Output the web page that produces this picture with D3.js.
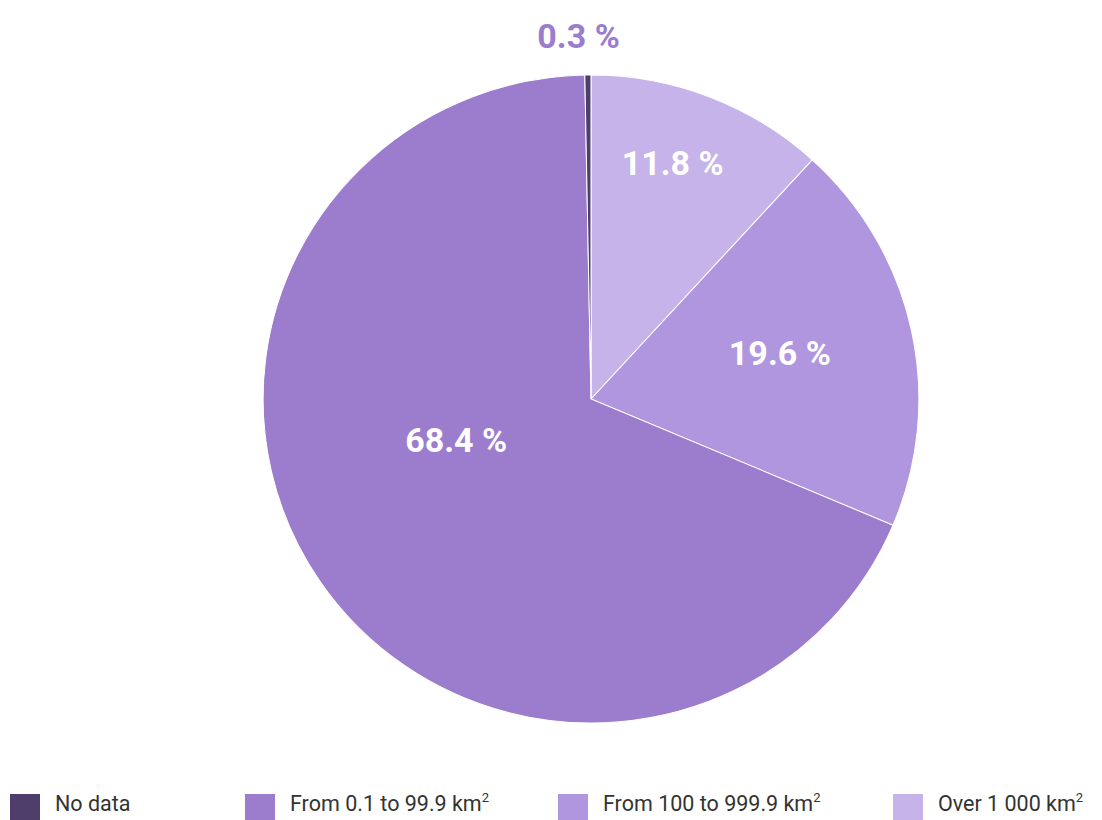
<!DOCTYPE html>
<html>
<head>
<meta charset="utf-8">
<script src="https://cdn.jsdelivr.net/npm/d3@7"></script>
<style>
  body { margin: 0; background: #fff; }
  svg { display: block; }
</style>
</head>
<body>
<script>
// categories in legend order, and their shares (%)
const categories = ["No data", "From 0.1 to 99.9 km", "From 100 to 999.9 km", "Over 1 000 km"];
const shares = [0.3, 68.4, 19.6, 11.8];
const labels = ["0.3 %", "68.4 %", "19.6 %", "11.8 %"];
const colours = ["#4f3d6c", "#9c7ccd", "#b096df", "#c6b3ea"];
// drawing order around the pie, clockwise from 12 o'clock
const pieOrder = [3, 2, 1, 0];

const width = 1102, height = 820;
const cx = 591, cy = 399, radius = 324;

// where each label sits: fraction of angle inside slice, radius (fraction of pie radius)
const labelPlace = {
  0: { t: 0.5, r: 1.12, dx: -9, colour: "#9c7ccd" },
  1: { t: 0.57, r: 0.435, dx: 0, colour: "#fff" },
  2: { t: 0.48, r: 0.6, dx: 0, colour: "#fff" },
  3: { t: 0.45, r: 0.77, dx: 0, colour: "#fff" }
};

const svg = d3.select("body").append("svg")
  .attr("width", width)
  .attr("height", height);

const pie = d3.pie()
  .sort(null)
  .value(i => shares[i]);

const arcs = pie(pieOrder);

const arc = d3.arc()
  .innerRadius(0)
  .outerRadius(radius);

const g = svg.append("g")
  .attr("transform", `translate(${cx},${cy})`);

g.append("g")
  .attr("transform", "scale(1.012,1)")
  .selectAll("path")
  .data(arcs)
  .enter().append("path")
  .attr("d", arc)
  .attr("fill", d => colours[d.data])
  .attr("stroke", "#fff")
  .attr("stroke-width", 1);

g.selectAll("text.lbl")
  .data(arcs)
  .enter().append("text")
  .attr("class", "lbl")
  .attr("transform", d => {
    const p = labelPlace[d.data];
    const a = d.startAngle + (d.endAngle - d.startAngle) * p.t;
    const r = radius * p.r;
    return `translate(${r * Math.sin(a) + p.dx},${-r * Math.cos(a)})`;
  })
  .attr("text-anchor", "middle")
  .attr("dy", "0.36em")
  .style("font-family", "Roboto, 'DejaVu Sans', sans-serif")
  .style("font-weight", "bold")
  .style("font-size", "34px")
  .style("fill", d => labelPlace[d.data].colour)
  .text(d => labels[d.data]);

// legend
const legendX = [10, 245, 558, 893];
const legend = svg.append("g")
  .selectAll("g")
  .data(categories)
  .enter().append("g")
  .attr("transform", (d, i) => `translate(${legendX[i]},794)`);

legend.append("rect")
  .attr("width", 30)
  .attr("height", 26)
  .attr("fill", (d, i) => colours[i]);

const lt = legend.append("text")
  .attr("x", 45)
  .attr("y", 17)
  .style("font-family", "Roboto, 'DejaVu Sans', sans-serif")
  .style("font-size", "21.5px")
  .style("fill", "#333");

lt.append("tspan").text(d => d);
lt.filter((d, i) => i > 0).append("tspan")
  .attr("dy", -9)
  .style("font-size", "13px")
  .text("2");
</script>
</body>
</html>
